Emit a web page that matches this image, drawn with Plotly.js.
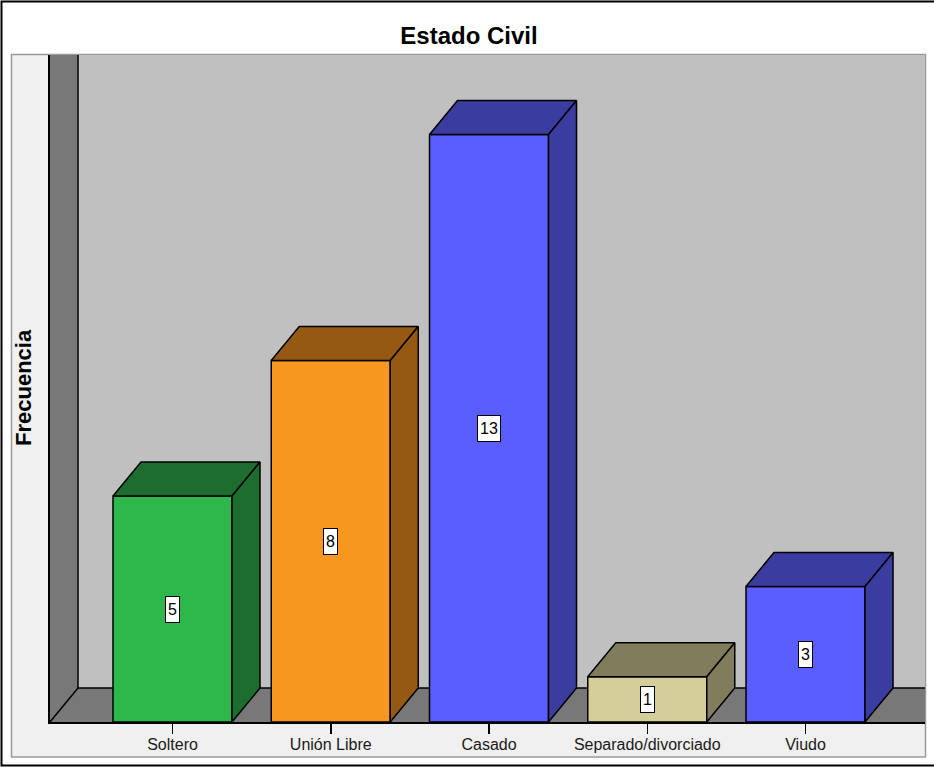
<!DOCTYPE html>
<html>
<head>
<meta charset="utf-8">
<script src="https://cdn.plot.ly/plotly-3.0.1.min.js"></script>
<style>
  html, body { margin: 0; padding: 0; background: #ffffff; }
  #chart { width: 934px; height: 767px; }
</style>
</head>
<body>
<div id="chart"></div>
<script>
// Estado civil: frequency per category
const categories = ['Soltero', 'Unión Libre', 'Casado', 'Separado/divorciado', 'Viudo'];
const frecuencia = [5, 8, 13, 1, 3];
const frontColors = ['#2eb84b', '#f7971f', '#5a5eff', '#d4cf99', '#5a5eff'];
const shadeColors = ['#1d6e2e', '#955913', '#3a3c9f', '#807c5c', '#3a3c9f'];

// Pseudo-3D geometry (in axis units)
const xMin = -0.7741, xMax = 4.7551;
const yMax = 14.757;
const barW = 0.752;
const depthX = 0.177, depthY = 0.752;
const edge = { color: '#000000', width: 1.5 };
const FONT = 'Liberation Sans, Arial, sans-serif';

// Plot area in pixels, used to place the panel/frame in paper units
const W = 934, H = 767;
const M = { l: 50, r: 9, t: 55, b: 45 };
const pw = W - M.l - M.r, ph = H - M.t - M.b;
const px = v => (v - M.l) / pw;
const py = v => (H - M.b - v) / ph;

const idx = categories.map((_, i) => i);

// Front faces of the boxes
const traces = [{
  type: 'bar',
  x: idx,
  y: frecuencia,
  width: barW,
  marker: { color: frontColors, line: edge },
  hoverinfo: 'x+y',
  showlegend: false
}];

// Top and side faces, built from each value
frecuencia.forEach((v, i) => {
  const x0 = i - barW / 2, x1 = i + barW / 2;
  traces.push({
    type: 'scatter', mode: 'lines', fill: 'toself',
    x: [x0, x0 + depthX, x1 + depthX, x1, x0],
    y: [v, v + depthY, v + depthY, v, v],
    fillcolor: shadeColors[i], line: edge,
    hoverinfo: 'skip', showlegend: false
  });
  traces.push({
    type: 'scatter', mode: 'lines', fill: 'toself',
    x: [x1, x1 + depthX, x1 + depthX, x1, x1],
    y: [0, depthY, v + depthY, v, 0],
    fillcolor: shadeColors[i], line: edge,
    hoverinfo: 'skip', showlegend: false
  });
});

const shapes = [
  // outer frame
  { type: 'rect', xref: 'paper', yref: 'paper', layer: 'below',
    x0: px(1.5), x1: px(945), y0: py(765.5), y1: py(1.5),
    line: { color: '#000000', width: 2 }, fillcolor: '#ffffff' },
  // chart panel
  { type: 'rect', xref: 'paper', yref: 'paper', layer: 'below',
    x0: px(11.5), x1: px(925.5), y0: py(757), y1: py(54.5),
    line: { color: '#9a9a9a', width: 1.5 }, fillcolor: '#f0f0f0' },
  // back wall
  { type: 'rect', xref: 'x', yref: 'y', layer: 'below',
    x0: xMin + depthX, x1: xMax + 1, y0: depthY, y1: yMax + 1,
    line: { width: 0 }, fillcolor: '#c0c0c0' },
  // left wall
  { type: 'path', xref: 'x', yref: 'y', layer: 'below',
    path: `M ${xMin},0 L ${xMin},${yMax + 1} L ${xMin + depthX},${yMax + 1} L ${xMin + depthX},${depthY} Z`,
    line: { width: 0 }, fillcolor: '#787878' },
  // floor
  { type: 'path', xref: 'x', yref: 'y', layer: 'below',
    path: `M ${xMin},0 L ${xMin + depthX},${depthY} L ${xMax + 1},${depthY} L ${xMax + 1},0 Z`,
    line: { width: 0 }, fillcolor: '#787878' },
  // wall / floor edges
  { type: 'line', xref: 'x', yref: 'y', layer: 'below',
    x0: xMin + depthX, x1: xMin + depthX, y0: depthY, y1: yMax + 1, line: edge },
  { type: 'line', xref: 'x', yref: 'y', layer: 'below',
    x0: xMin, x1: xMin + depthX, y0: 0, y1: depthY, line: edge },
  { type: 'line', xref: 'x', yref: 'y', layer: 'below',
    x0: xMin + depthX, x1: xMax + 1, y0: depthY, y1: depthY, line: edge }
];

// Value labels in the middle of each front face
const annotations = frecuencia.map((v, i) => ({
  x: i, y: v / 2, xref: 'x', yref: 'y',
  text: String(v), showarrow: false,
  bgcolor: '#ffffff', bordercolor: '#000000', borderwidth: 1, borderpad: 2,
  height: 21,
  font: { family: FONT, size: 16, color: '#000000' }
}));
annotations.push({
  xref: 'paper', yref: 'paper', x: px(23), y: py(388),
  text: '<b>Frecuencia</b>', textangle: -90, showarrow: false,
  xanchor: 'center', yanchor: 'middle',
  font: { family: FONT, size: 22, color: '#000000' }
});

const layout = {
  width: W, height: H,
  margin: M,
  paper_bgcolor: '#ffffff',
  plot_bgcolor: 'rgba(0,0,0,0)',
  title: {
    text: '<b>Estado Civil</b>',
    xref: 'container', yref: 'container',
    x: 469 / W, y: 1 - 36 / H, xanchor: 'center', yanchor: 'middle',
    font: { family: FONT, size: 24, color: '#000000' }
  },
  xaxis: {
    range: [xMin, xMax], fixedrange: true,
    tickvals: idx, ticktext: categories,
    ticks: 'outside', ticklen: 10, tickwidth: 1.5, tickcolor: '#000000',
    ticklabelstandoff: -3,
    showline: true, linecolor: '#000000', linewidth: 2,
    showgrid: false, zeroline: false,
    tickfont: { family: FONT, size: 16, color: '#1a1a1a' }
  },
  yaxis: {
    range: [0, yMax], fixedrange: true,
    showticklabels: false, ticks: '',
    showline: true, linecolor: '#000000', linewidth: 2,
    showgrid: false, zeroline: false
  },
  shapes: shapes,
  annotations: annotations,
  showlegend: false
};

Plotly.newPlot('chart', traces, layout, { displayModeBar: false, staticPlot: true });
</script>
</body>
</html>
